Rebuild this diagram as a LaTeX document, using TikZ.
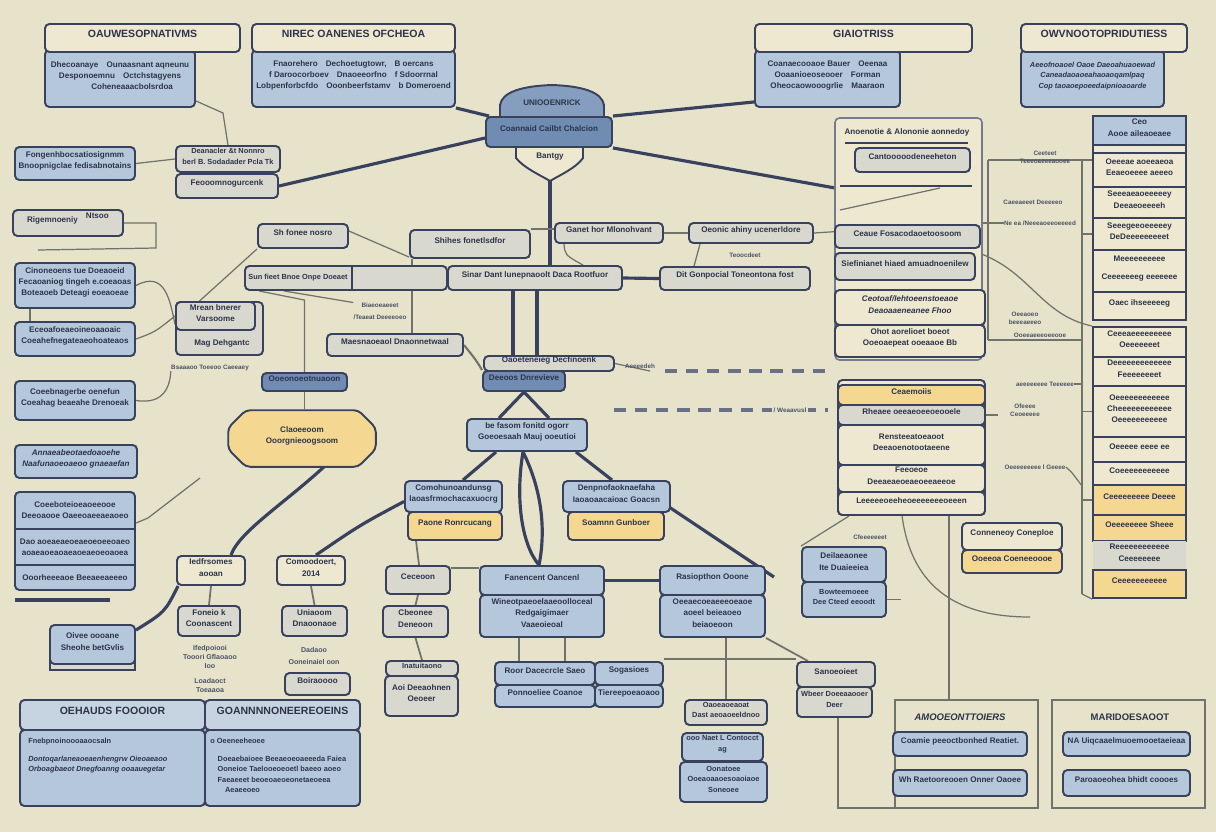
\documentclass[tikz,border=0pt]{standalone}
\usepackage{fontspec}
\setmainfont{Liberation Sans}
\usetikzlibrary{arrows.meta,positioning,fit,calc,shapes.misc}
\pgfdeclarelayer{paper}
\pgfdeclarelayer{wires}
\pgfsetlayers{paper,wires,main}
\definecolor{BpPaper}{RGB}{230,227,202}
\definecolor{BpNavy}{RGB}{56,66,94}
\definecolor{BpInk}{RGB}{45,52,74}
\definecolor{BpBlue}{RGB}{181,199,219}
\definecolor{BpPale}{RGB}{198,211,224}
\definecolor{BpCream}{RGB}{238,232,208}
\definecolor{BpGray}{RGB}{216,216,206}
\definecolor{BpGold}{RGB}{244,215,145}
\definecolor{BpDark}{RGB}{112,140,178}
\definecolor{BpWire}{RGB}{112,114,108}
\tikzset{
  bp/base/.style={
    draw=BpNavy,
    line width=1.1pt,
    rounded corners=2.5pt,
    inner sep=0pt,
    align=center,
    text=BpInk,
    font=\fontsize{4.6}{6.4}\selectfont\bfseries
  },
  bp/blue/.style={bp/base, fill=BpBlue},
  bp/pale/.style={bp/base, fill=BpPale},
  bp/cream/.style={bp/base, fill=BpCream},
  bp/gray/.style={bp/base, fill=BpGray},
  bp/gold/.style={bp/base, fill=BpGold},
  bp/dark/.style={bp/base, fill=BpDark},
  bp/cell/.style={bp/cream, rounded corners=0pt},
  bp/head/.style={bp/cream, font=\fontsize{6}{7}\selectfont\bfseries},
  bp/frame/.style={draw=BpWire, line width=0.9pt, inner sep=0pt},
  bp/txt/.style={inner sep=0pt, align=center, text=BpInk, font=\fontsize{4.6}{6.4}\selectfont\bfseries},
  bp/small/.style={font=\fontsize{4.2}{6}\selectfont\bfseries},
  bp/note/.style={inner sep=0pt, align=center, text=BpInk!85, font=\fontsize{3.6}{4.6}\selectfont\bfseries},
  bp/title/.style={inner sep=0pt, text=BpInk, font=\fontsize{6}{7}\selectfont\bfseries},
  bp/wire/.style={draw=BpWire, line width=0.7pt},
  bp/link/.style={draw=BpNavy, line width=1.8pt},
  bp/dashline/.style={draw=BpNavy!75, line width=1.8pt, dash pattern=on 7pt off 5pt},
  bp/shape/.style={draw=BpNavy, line width=1.1pt}
}

\begin{document}
\begin{tikzpicture}[x=0.02cm,y=-0.02cm]
  \begin{pgfonlayer}{paper}
    \fill[BpPaper] (0,0) rectangle (1216,832);
  \end{pgfonlayer}
  \useasboundingbox (0,0) rectangle (1216,832);

  % top panels
  \node[bp/blue, fit={(45,50)(195,107)}] (obsBody) {Dhecoanaye\quad Ounaasnant aqneunu\\Desponoemnu\quad Octchstagyens\\\hspace*{3em}Coheneaaacbolsrdoa};
  \node[bp/head, fit={(45,24)(240,52)}] (obsHead) {OAUWESOPNATIVMS};
  \node[bp/blue, fit={(252,50)(455,107)}] (nirBody) {Fnaorehero\quad Dechoetugtowr,\quad B oercans\\f Daroocorboev\quad Dnaoeeorfno\quad f Sdoorrnal\\Lobpenforbcfdo\quad Ooonbeerfstamv\quad b Domeroend};
  \node[bp/head, fit={(252,24)(455,52)}] (nirHead) {NIREC OANENES OFCHEOA};
  \node[bp/blue, fit={(755,50)(900,107)}] (gisBody) {Coanaecooaoe Bauer\quad Oeenaa\\Ooaanioeoseooer\quad Forman\\Oheocaowooogrlie\quad Maaraon};
  \node[bp/head, fit={(755,24)(972,52)}] (gisHead) {GIAIOTRISS};
  \node[bp/blue, bp/small, fit={(1021,50)(1164,107)}] (ownBody) {\itshape Aeeofnoaoel Oaoe Daeoahuaoewad\\Caneadaoaoeahaoaoqamlpaq\\Cop taoaoepoeedaipnioaoarde};
  \node[bp/head, fit={(1021,24)(1187,52)}] (ownHead) {OWVNOOTOPRIDUTIESS};

  % central shield
  \draw[bp/shape, fill=BpDark!85] (500,118) -- (500,105) .. controls (502,92) and (522,86) .. (552,85) .. controls (582,86) and (602,92) .. (604,105) -- (604,118) -- cycle;
  \draw[bp/shape, fill=BpCream] (516,146) -- (516,158) .. controls (524,168) and (540,175) .. (550,181) .. controls (560,175) and (576,168) .. (583,158) -- (583,146) -- cycle;
  \node[bp/dark, fit={(486,117)(612,147)}] (core) {Coannaid Cailbt Chalcion};
  \node[bp/txt] (coreTop) at (552,103) {UNIOOENRICK};
  \node[bp/txt] (coreBase) at (550,157) {Bantgy};
  \coordinate (coreTip) at (550,181);

  % left column
  \node[bp/blue, fit={(15,147)(135,180)}] (fongen) {Fongenhbocsatiosignmm\\Bnoopnigclae fedisabnotains};
  \node[bp/gray, bp/small, fit={(176,146)(280,172)}] (deanacler) {Deanacler \&t Nonnro\\berl B. Sodadader Pcla Tk};
  \node[bp/gray, fit={(176,174)(278,198)}] (feooom) {Feooomnogurcenk};
  \node[bp/gray, fit={(13,210)(123,236)}] (rigem) {Rigemnoeniy\quad\raisebox{2pt}{Ntsoo}};
  \node[bp/blue, fit={(15,263)(135,308)}] (cinon) {Cinoneoens tue Doeaoeid\\Fecaoaniog tingeh e.coeaoas\\Boteaoeb Deteagi eoeaoeae};
  \node[bp/blue, fit={(15,322)(135,356)}] (eceoa) {Eceoafoeaeoineoaaoaic\\Coeahefnegateaeohoateaos};
  \node[bp/blue, fit={(15,381)(135,420)}] (coebn) {Coeebnagerbe oenefun\\Coeahag beaeahe Drenoeak};
  \node[bp/blue, fit={(15,445)(137,478)}] (annae) {\itshape Annaeabeotaedoaoehe\\Naafunaoeoaeoo gnaeaefan};
  \node[bp/blue, fit={(15,492)(135,590)}] (coeset) {};
  \coordinate (coesetA) at (15,529);
  \coordinate (coesetB) at (15,565);
  \draw[bp/shape] (coesetA) -- (coesetA -| coeset.east);
  \draw[bp/shape] (coesetB) -- (coesetB -| coeset.east);
  \node[bp/txt] (coesetT1) at (75,510) {Coeeboteioeaoeeooe\\Deeoaooe Oaeeoaeeaeaoeo};
  \node[bp/txt] (coesetT2) at (75,547) {Dao aoeaeaeoeaeoeoeeoaeo\\aoaeaoeaoaeaoeaeoeoaoea};
  \node[bp/txt] (coesetT3) at (75,578) {Ooorheeeaoe Beeaeeaeeeo};
  \coordinate (baseL) at (15,600);
  \coordinate (baseR) at (110,600);
  \draw[bp/link] (baseL) -- (baseR);
  \draw[bp/shape, fill=BpGray] (50,632) rectangle (135,670);
  \node[bp/blue, fit={(50,625)(135,664)}] (oivee) {Oivee oooane\\Sheohe betGvlis};

  % middle upper
  \node[bp/gray, fit={(258,224)(348,248)}] (shfonee) {Sh fonee nosro};
  \node[bp/gray, fit={(410,230)(530,258)}] (shihes) {Shihes fonetlsdfor};
  \node[bp/gray, fit={(245,266)(447,290)}] (sunfieet) {};
  \node[bp/txt, bp/small] (sunfieetT) at (298,278) {Sun fieet Bnoe Onpe Doeaet};
  \coordinate (sunCut) at (352,266);
  \draw[bp/shape] (sunCut) -- (sunCut |- sunfieet.south);
  \node[bp/gray, fit={(448,266)(622,290)}] (sinar) {Sinar Dant lunepnaoolt Daca Rootfuor};
  \node[bp/gray, fit={(555,223)(663,243)}] (ganet) {Ganet hor Mlonohvant};
  \node[bp/gray, fit={(689,223)(813,243)}] (oeonic) {Oeonic ahiny ucenerldore};
  \node[bp/gray, fit={(660,267)(810,290)}] (ditgon) {Dit Gonpocial Toneontona fost};
  \node[bp/gray, fit={(176,302)(263,355)}] (mrean) {};
  \node[bp/gray, fit={(176,302)(255,330)}] (mreanIn) {Mrean bnerer\\Varsoome};
  \node[bp/txt] (mreanT) at (222,343) {Mag Dehgantc};
  \node[bp/gray, fit={(327,334)(463,356)}] (maesna) {Maesnaoeaol Dnaonnetwaal};
  \node[bp/dark, fit={(262,373)(347,391)}] (ooeono) {Ooeonoeotnuaoon};
  \node[bp/gold, chamfered rectangle, chamfered rectangle xsep=5pt, chamfered rectangle ysep=5pt, fit={(237,419)(367,458)}] (claoe) {Claoeeoom\\Ooorgnieoogsoom};
  \node[bp/gray, fit={(484,356)(614,371)}] (oaoete) {Oaoeteneieg Decfinoenk};
  \node[bp/dark, fit={(483,371)(565,391)}] (deeoos) {Deeoos Dnrevieve};
  \node[bp/blue, fit={(467,419)(587,451)}] (fasom) {be fasom fonitd ogorr\\Goeoesaah Mauj ooeutioi};

  % middle lower
  \node[bp/blue, fit={(405,481)(502,512)}] (comohu) {Comohunoandunsg\\laoasfrmochacaxuocrg};
  \node[bp/gold, fit={(408,512)(502,540)}] (paone) {Paone Ronrcucang};
  \node[bp/blue, fit={(563,481)(670,512)}] (denpno) {Denpnofaoknaefaha\\Iaoaoaacaioac Goacsn};
  \node[bp/gold, fit={(568,512)(664,540)}] (soamnn) {Soamnn Gunboer};
  \node[bp/cream, fit={(177,556)(245,585)}] (iedfrs) {Iedfrsomes\\aooan};
  \node[bp/cream, fit={(277,556)(345,585)}] (comood) {Comoodoert,\\2014};
  \node[bp/gray, fit={(178,606)(240,636)}] (foneio) {Foneio k\\Coonascent};
  \node[bp/gray, fit={(282,606)(347,636)}] (uniaoo) {Uniaoom\\Dnaoonaoe};
  \node[bp/note, font=\fontsize{4}{5.2}\selectfont\bfseries] (ifedp) at (210,669) {Ifedpoiooi\\Tooori Gflaoaoo\\loo\\[3pt]Loadaoct\\Toeaaoa};
  \node[bp/note, font=\fontsize{4}{5.2}\selectfont\bfseries] (dadaoo) at (314,656) {Dadaoo\\[2pt]Ooneinaiel oon};
  \node[bp/gray, fit={(285,673)(350,695)}] (boirao) {Boiraoooo};
  \node[bp/gray, fit={(386,566)(450,594)}] (ceceoo) {Ceceoon};
  \node[bp/gray, fit={(383,606)(448,637)}] (cbeone) {Cbeonee\\Deneoon};
  \node[bp/gray, bp/small, fit={(386,661)(458,676)}] (inatui) {Inatuitaono};
  \node[bp/gray, fit={(385,676)(458,716)}] (aoidee) {Aoi Deeaohnen\\Oeoeer};
  \node[bp/blue, fit={(480,595)(604,637)}] (fanBody) {Wineotpaeoelaaeoolloceal\\Redgaigimaer\\Vaaeoieoal};
  \node[bp/blue, fit={(480,566)(604,595)}] (fanHead) {Fanencent Oancenl};
  \node[bp/blue, fit={(660,595)(765,637)}] (rasBody) {Oeeaecoeaeeeoeaoe\\aoeel beieaoeo\\beiaoeoon};
  \node[bp/blue, fit={(660,566)(765,595)}] (rasHead) {Rasiopthon Ooone};
  \node[bp/blue, fit={(495,662)(595,685)}] (roor) {Roor Dacecrcle Saeo};
  \node[bp/blue, fit={(495,685)(595,707)}] (ponnoe) {Ponnoeliee Coanoe};
  \node[bp/blue, fit={(595,662)(663,685)}] (sogasi) {Sogasioes};
  \node[bp/blue, fit={(595,685)(663,707)}] (tieree) {Tiereepoeaoaoo};
  \node[bp/gray, bp/small, fit={(685,700)(767,725)}] (oaoeao) {Oaoeaoeaoat\\Dast aeoaoeeldnoo};
  \node[bp/blue, bp/small, fit={(682,733)(763,761)}] (naetl) {ooo Naet L Contocct\\ag};
  \node[bp/blue, bp/small, fit={(680,762)(767,802)}] (oonato) {Oonatoee\\Ooeaoaaoesoaoiaoe\\Soneoee};
  \node[bp/gray, fit={(797,662)(875,687)}] (sanoeo) {Sanoeoieet};
  \node[bp/gray, bp/small, fit={(797,687)(872,717)}] (wbeer) {Wbeer Doeeaaooer\\Deer};
  \node[bp/blue, fit={(802,547)(886,582)}] (deilae) {Deilaeaonee\\Ite Duaieeiea};
  \node[bp/blue, bp/small, fit={(802,582)(886,617)}] (bowtee) {Bowteemoeee\\Dee Cteed eeoodt};

  % bottom tables
  \node[bp/blue, fit={(20,730)(205,806)}] (chalBody) {};
  \node[bp/pale, fit={(20,700)(205,730)}] (chalHead) {\fontsize{6}{7}\selectfont OEHAUDS FOOOIOR};
  \node[bp/blue, fit={(205,730)(360,806)}] (goanBody) {};
  \node[bp/pale, fit={(205,700)(360,730)}] (goanHead) {\fontsize{6}{7}\selectfont GOANNNNONEEREOEINS};
  \node[bp/txt, bp/small, anchor=north west, align=left] (chalText) at (28,738) {Fnebpnoinoooaaocsaln\\[4pt]\itshape Dontoqarlaneaoeaenhengrw Oieoaeaoo\\\itshape Orboagbaeot Dnegfoanng ooaauegetar};
  \node[bp/txt, bp/small, anchor=north west, align=left] (goanText) at (210,738) {o\ Oeeneeheoee\\[4pt]\quad Doeaebaioee Beeaeoeoaeeeda Faiea\\\quad Ooneioe Taelooeoeoetl baeeo aoeo\\\quad Faeaeeet beoeoaeoeonetaeoeea\\\quad\quad Aeaeeoeo};

  % bottom right frames
  \node[bp/frame, fit={(895,700)(1038,808)}] (amoFrame) {};
  \node[bp/frame, fit={(1052,700)(1205,808)}] (marFrame) {};
  \node[bp/title, font=\fontsize{5.4}{6.4}\selectfont\bfseries\itshape] (amoTitle) at (960,717) {AMOOEONTTOIERS};
  \node[bp/title, font=\fontsize{5.4}{6.4}\selectfont\bfseries] (marTitle) at (1130,717) {MARIDOESAOOT};
  \node[bp/blue, fit={(893,732)(1027,756)}] (amoA) {Coamie peeoctbonhed Reatiet.};
  \node[bp/blue, fit={(893,770)(1027,796)}] (amoB) {Wh Raetooreooen Onner Oaoee};
  \node[bp/blue, fit={(1063,732)(1190,756)}] (marA) {NA Uiqcaaelmuoemooetaeieaa};
  \node[bp/blue, fit={(1063,770)(1190,796)}] (marB) {Paroaoeohea bhidt coooes};

  % right panel
  \node[bp/cream, draw=BpNavy!70, line width=0.9pt, fit={(835,118)(982,360)}] (rp) {};
  \node[bp/txt] (rpTitle) at (907,132) {Anoenotie \& Alononie aonnedoy};
  \coordinate (rpL1) at (845,143);
  \coordinate (rpL2) at (840,186);
  \coordinate (rpL3) at (840,210);
  \draw[bp/shape, line width=0.8pt] (rpL1) -- ++(123,0);
  \draw[bp/shape, line width=0.8pt] (rpL2) -- ++(132,0);
  \draw[bp/wire] (rpL3) -- ++(100,-22);
  \node[bp/gray, fit={(855,148)(970,172)}] (rpB) {Cantooooodeneeheton};
  \node[bp/gray, fit={(835,225)(980,248)}] (rpC) {Ceaue Fosacodaoetoosoom};
  \node[bp/gray, fit={(835,253)(975,280)}] (rpD) {Siefinianet hiaed amuadnoenilew};
  \node[bp/cream, fit={(835,290)(985,325)}] (rpE) {\itshape Ceotoaf/Iehtoeenstoeaoe\\Deaoaaeneanee Fhoo};
  \node[bp/cream, fit={(835,325)(985,357)}] (rpF) {Ohot aorelioet boeot\\Ooeoaepeat ooeaaoe Bb};
  \node[bp/cream, fit={(838,380)(985,515)}] (rq) {};
  \node[bp/gold, fit={(838,385)(985,405)}] (rqA) {Ceaemoiis};
  \node[bp/gray, fit={(838,405)(985,425)}] (rqB) {Rheaee oeeaeoeeoeooele};
  \node[bp/cream, fit={(838,425)(985,465)}] (rqC) {Rensteeatoeaoot\\Deeaoenotootaeene};
  \node[bp/cream, fit={(838,465)(985,492)}] (rqD) {Feeoeoe\\Deeaeaeoeaeoeeaeeoe};
  \node[bp/cream, fit={(838,492)(985,515)}] (rqE) {Leeeeeoeeheoeeeeeeeoeeen};
  \node[bp/cream, fit={(962,523)(1062,550)}] (conne) {Conneneoy Coneploe};
  \node[bp/gold, fit={(962,550)(1062,573)}] (ooeeoa) {Ooeeoa Coeneeoooe};

  % far right column
  \node[bp/blue, rounded corners=0pt, fit={(1093,116)(1186,145)}] (crHead) {Ceo\\Aooe aileaoeaee};
  \node[bp/cell, fit={(1093,145)(1186,153)}] (cr1) {};
  \node[bp/cell, fit={(1093,153)(1186,187)}] (cr2) {Oeeeae aoeeaeoa\\Eeaeoeeee aeeeo};
  \node[bp/cell, fit={(1093,187)(1186,218)}] (cr3) {Seeeaeaoeeeeey\\Deeaeoeeeeh};
  \node[bp/cell, fit={(1093,218)(1186,250)}] (cr4) {Seeegeeoeeeeey\\DeDeeeeeeeeet};
  \node[bp/cell, fit={(1093,250)(1186,292)}] (cr5) {Meeeeeeeeee\\[4pt]Ceeeeeeeg eeeeeee};
  \node[bp/cell, fit={(1093,292)(1186,320)}] (cr6) {Oaec ihseeeeeg};
  \node[bp/cell, fit={(1093,327)(1186,357)}] (cr7) {Ceeeaeeeeeeeee\\Oeeeeeeet};
  \node[bp/cell, fit={(1093,357)(1186,386)}] (cr8) {Deeeeeeeeeeeee\\Feeeeeeeet};
  \node[bp/cell, fit={(1093,386)(1186,437)}] (cr9) {Oeeeeeeeeeeee\\Cheeeeeeeeeeee\\Oeeeeeeeeeee};
  \node[bp/cell, fit={(1093,437)(1186,462)}] (cr10) {Oeeeee eeee ee};
  \node[bp/cell, fit={(1093,462)(1186,485)}] (cr11) {Coeeeeeeeeeee};
  \node[bp/cell, fill=BpGold, fit={(1093,485)(1186,515)}] (cr12) {Ceeeeeeeee Deeee};
  \node[bp/cell, fill=BpGold, fit={(1093,515)(1186,541)}] (cr13) {Oeeeeeeee Sheee};
  \node[bp/cell, fill=BpGray, draw=none, fit={(1093,541)(1186,570)}] (cr14) {Reeeeeeeeeeee\\Ceeeeeeee};
  \node[bp/cell, fill=BpGold, fit={(1093,570)(1186,598)}] (cr15) {Ceeeeeeeeeee};

  % small labels
  \node[bp/note] (lbSun) at (380,311) {Biaeoeaeeet\\[2pt]/Teaeat Deeeeoeo};
  \node[bp/note] (lbBsa) at (210,368) {Bsaaaoo Toeeoo Caeeaey};
  \node[bp/note] (lbTeo) at (745,255) {Teoocdeet};
  \node[bp/note] (lbAee) at (640,366) {Aeeeedeh};
  \node[bp/note, fill=BpPaper, inner sep=1pt] (lbWea) at (790,410) {/ Weaavusl};
  \node[bp/note] (lbCfe) at (870,537) {Cfeeeeeeet};
  \node[bp/note] (lbA) at (1045,157) {Ceeteet\\Teeeoaeeeaooee};
  \node[bp/note] (lbB) at (1033,202) {Caeeaeeet Deeeeeo};
  \node[bp/note] (lbC) at (1040,223) {Ne ea /Neeeaoeeoeeeed};
  \node[bp/note] (lbD) at (1025,318) {Oeeaoeo\\beeeaeeeo};
  \node[bp/note] (lbE) at (1040,335) {Ooeeaeeeoeeooe};
  \node[bp/note] (lbF) at (1045,384) {aeeeeeeee Teeeeee};
  \node[bp/note] (lbG) at (1025,410) {Ofeeee\\Ceoeeeee};
  \node[bp/note] (lbH) at (1035,467) {Oeeeeeeeee l Geeee};

  % free ends
  \coordinate (dashA0) at (665,371);
  \coordinate (dashA1) at (828,371);
  \coordinate (dashB0) at (614,410);
  \coordinate (dashB1) at (828,410);
  \coordinate (brTop) at (1082,160);
  \coordinate (brBot) at (1082,594);
  \coordinate (rpEdge) at (988,160);
  \coordinate (rpEdgeB) at (988,340);
  \coordinate (setEnd) at (200,478);
  \coordinate (arcEnd) at (1030,617);
  \coordinate (frEnd) at (895,808);

  \begin{pgfonlayer}{wires}
    % thick links
    \draw[bp/link] ($(core.west)+(0,6)$) -- (feooom.east);
    \draw[bp/link] (nirBody.south east) -- ($(core.north west)+(4,0)$);
    \draw[bp/link] (core.north east) -- ($(gisBody.south west)+(0,-6)$);
    \draw[bp/link] (core.south east) -- ($(rp.north west)!0.29!(rp.south west)$);
    \draw[bp/link] (coreTip) -- (coreTip |- sinar.north);
    \coordinate (sinA) at ($(sinar.south)+(-22,0)$);
    \coordinate (sinB) at ($(sinar.south)+(2,0)$);
    \draw[bp/link] (sinA) -- (sinA |- oaoete.north);
    \draw[bp/link] (sinB) -- (sinB |- oaoete.north);
    \draw[bp/link] (sinar.east) -- (ditgon.west);
    \draw[bp/link] ($(fasom.north)+(-28,0)$) -- (deeoos.south) -- ($(fasom.north)+(22,0)$);
    \draw[bp/link] ($(fasom.south west)+(30,0)$) -- ($(comohu.north east)+(-40,0)$);
    \draw[bp/link] ($(fasom.south east)+(-12,0)$) -- ($(denpno.north west)+(50,0)$);
    \coordinate (lensTop) at ($(fasom.south)+(-4,0)$);
    \coordinate (lensBot) at ($(fanHead.north)+(-3,0)$);
    \draw[bp/link] (lensTop) .. controls (515,500) and (522,545) .. (lensBot);
    \draw[bp/link] (lensTop) .. controls (542,490) and (546,530) .. (lensBot);
    \draw[bp/link] ($(claoe.south east)+(-35,0)$) .. controls (290,500) and (240,530) .. ($(iedfrs.north east)+(-15,0)$);
    \draw[bp/link] ($(comohu.west)+(0,5)$) .. controls (360,525) .. ($(comood.north)+(5,0)$);
    \draw[bp/link] ($(denpno.south east)+(-5,-8)$) -- ($(rasHead.north east)+(8,12)$);
    \draw[bp/link] (fanHead.east) -- (rasHead.west);
    \draw[bp/link] ($(iedfrs.south west)+(2,0)$) .. controls (165,612) .. ($(oivee.north east)+(0,6)$);
    % dashed runs
    \draw[bp/wire] (oaoete.east) -- ($(dashA0)+(-15,0)$);
    \draw[bp/dashline] (dashA0) -- (dashA1);
    \draw[bp/dashline] (dashB0) -- (dashB1);
    % thin wires, left
    \draw[bp/wire] ($(obsBody.south east)+(0,-7)$) -- ++(27,12) -- (deanacler.north);
    \draw[bp/wire] (fongen.east) -- (deanacler.west);
    \draw[bp/wire] (rigem.east) -- ++(32,0) -- ++(0,25) -- ++(-118,2);
    \draw[bp/wire] (cinon.east) .. controls (165,270) and (170,300) .. ($(mrean.west)+(0,-4)$);
    \draw[bp/wire] (eceoa.east) .. controls (155,332) .. (mreanIn.west);
    \draw[bp/wire] ($(cinon.south)+(-45,0)$) -- ($(eceoa.north)+(-45,0)$);
    \draw[bp/wire] (shfonee.south west) -- ($(mrean.north)+(-20,0)$);
    \draw[bp/wire] (coebn.east) .. controls (165,405) and (170,385) .. (lbBsa.south west);
    \draw[bp/wire] ($(coeset.north east)+(0,32)$) -- ++(12,-5) -- (setEnd);
    \draw[bp/wire] ($(sunfieet.south west)+(15,0)$) -- ($(ooeono.north)+(0,-72)$) -- (ooeono.north);
    \draw[bp/wire] (ooeono.south) -- (ooeono.south |- claoe.north);
    \coordinate (shiV) at ($(shihes.south west)+(3,0)$);
    \draw[bp/wire, line width=1.1pt] (shiV) -- (shiV |- maesna.north);
    \draw[bp/wire] ($(shfonee.north east)+(0,8)$) -- ($(shihes.north west)+(0,28)$);
    \draw[bp/wire] (lbSun.north west) -- ($(sunfieet.south west)+(40,0)$);
    \draw[bp/wire, line width=1.2pt] (maesna.east) .. controls (476,360) .. (deeoos.north west);
    % thin wires, middle
    \draw[bp/wire] (ganet.east) -- (oeonic.west);
    \draw[bp/wire] ($(ganet.south west)+(10,0)$) .. controls (565,255) .. ($(sinar.north east)+(-40,0)$);
    \draw[bp/wire] ($(oeonic.south west)+(12,0)$) -- ($(ditgon.north west)+(35,0)$);
    \draw[bp/wire] (oeonic.east) -- ($(rp.north west)!0.47!(rp.south west)$);
    \draw[bp/wire] (shihes.north east) -- ++(25,0) -- (coreTip |- shihes.north);
    \draw[bp/wire, line width=1pt] (comohu.south west |- paone.south) ++(12,0) -- ($(ceceoo.north west)+(34,0)$);
    \draw[bp/wire, line width=1pt] ($(ceceoo.north east)+(0,3)$) -- ($(fanHead.north west)+(0,3)$);
    \draw[bp/wire, line width=1pt] (ceceoo.south) -- (cbeone.north);
    \draw[bp/wire, line width=1pt] (cbeone.south) -- (inatui.north);
    \draw[bp/wire, line width=1pt] (iedfrs.south) -- (foneio.north);
    \draw[bp/wire, line width=1pt] (comood.south) -- (uniaoo.north);
    \coordinate (fanL) at ($(fanBody.south west)+(40,0)$);
    \coordinate (fanR) at ($(fanBody.south west)+(86,0)$);
    \draw[bp/wire, line width=1pt] (fanL) -- (fanL |- roor.north);
    \draw[bp/wire, line width=1pt] (fanR) -- (fanR |- roor.north);
    \draw[bp/wire, line width=1pt] (rasBody.south -| oaoeao.north) -- (oaoeao.north);
    \draw[bp/wire, line width=1pt] ($(sogasi.north east)+(0,-2)$) -- ($(sanoeo.north west)+(0,-2)$);
    \draw[bp/wire, line width=1pt] (rasBody.south east) -- ($(sanoeo.north west)+(12,0)$);
    \draw[bp/wire] (bowtee.east) -- ++(14,0);
    % thin wires, right
    \draw[bp/wire] ($(wbeer.south west)+(42,0)$) |- (frEnd);
    \draw[bp/wire] ($(rq.south west)+(12,0)$) -- (deilae.north west);
    \draw[bp/wire] ($(rq.south west)+(65,0)$) .. controls (912,590) and (960,617) .. (arcEnd);
    \coordinate (rqV) at ($(rq.south west)+(112,0)$);
    \draw[bp/wire] (rqV) -- (rqV |- amoFrame.north);
    \draw[bp/wire, line width=0.9pt] (rpEdge) -- (rpEdgeB);
    \draw[bp/wire, line width=0.9pt] (brTop) -- (brBot);
    \draw[bp/wire] (rpEdge) -- (brTop);
    \draw[bp/wire] (brTop) -- (cr2.west |- brTop);
    \draw[bp/wire] (rpC.east |- lbC) -- (lbC.west);
    \draw[bp/wire] (rpEdgeB) -- (rpEdgeB -| brTop);
    \draw[bp/wire] (rpD.north east) .. controls (1030,270) and (1040,315) .. (cr7.north west);
    \draw[bp/wire] (lbF.east) -- (lbF.east -| brTop);
    \draw[bp/wire] (rqB.east) -- ++(12,0);
    \draw[bp/wire] (lbH.east) .. controls (1070,470) .. ($(brTop |- cr11.south)$);
    \draw[bp/wire] (brBot) -- (cr15.south west);
    \draw[bp/wire] ($(brTop |- cr12.center)$) -- (cr12.west);
    \draw[bp/wire] ($(brTop |- cr9.center)$) -- (cr9.west);
    \draw[bp/wire] ($(brTop |- cr4.center)$) -- (cr4.west);
  \end{pgfonlayer}
\end{tikzpicture}
\end{document}
